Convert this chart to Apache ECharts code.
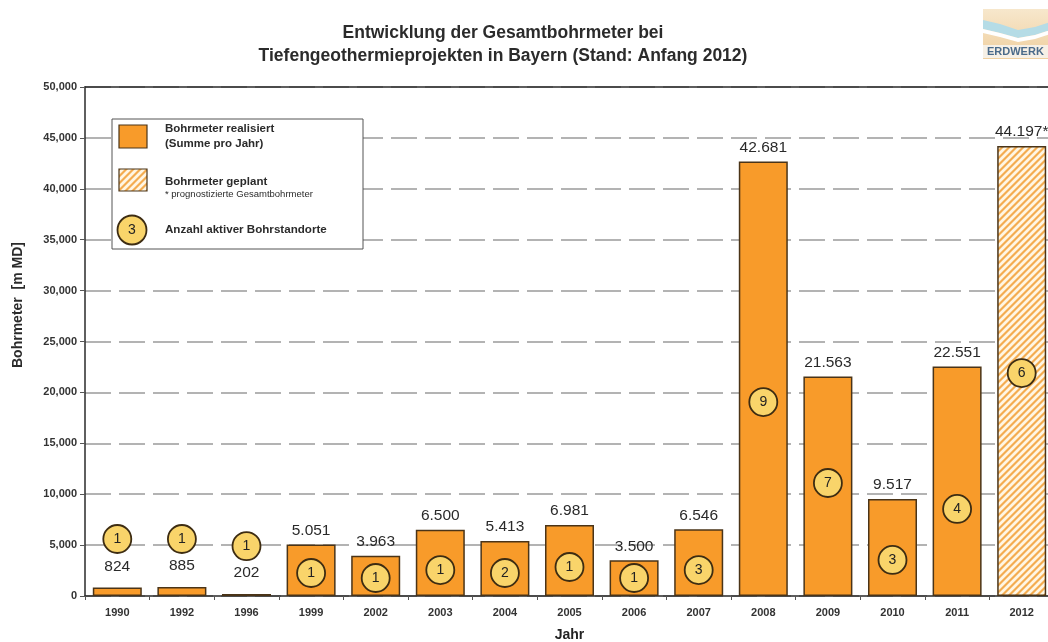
<!DOCTYPE html>
<html>
<head>
<meta charset="utf-8">
<script src="https://cdn.jsdelivr.net/npm/echarts@6/dist/echarts.min.js"></script>
<style>
html,body{margin:0;padding:0;background:#fff;}
#chart{width:1048px;height:642px;}
</style>
</head>
<body>
<div id="chart"></div>
<script>
// ---- data ----
const categories = ['1990','1992','1996','1999','2002','2003','2004','2005','2006','2007','2008','2009','2010','2011','2012'];
const realizedMeters = [824, 885, 202, 5051, 3963, 6500, 5413, 6981, 3500, 6546, 42681, 21563, 9517, 22551, null];
const plannedMeters = [null, null, null, null, null, null, null, null, null, null, null, null, null, null, 44197];
const activeSites = [1, 1, 1, 1, 1, 1, 2, 1, 1, 3, 9, 7, 3, 4, 6];
// vertical level (in m) where the site-count marker is placed in the picture
const siteMarkerLevel = [5600, 5600, 4900, 2260, 1770, 2550, 2260, 2850, 1770, 2550, 19050, 11100, 3540, 8550, 21900];
const yMin = 0, yMax = 50000, yStep = 5000;

// ---- styles ----
const FONT = 'Liberation Sans, Arial, sans-serif';
const barColor = '#F89B2A';
const barBorder = '#4a3418';
const circleFill = '#F9D46A';
const circleBorder = '#3d2c12';

function makeHatch() {
  const s = 7;
  const c = document.createElement('canvas');
  c.width = s; c.height = s;
  const ctx = c.getContext('2d');
  const img = ctx.createImageData(s, s);
  for (let y = 0; y < s; y++) {
    for (let x = 0; x < s; x++) {
      const i = (y * s + x) * 4;
      const k = (x + y) % s;
      let col;
      if (k < 2) col = [244, 172, 80];
      else if (k === 2 || k === 6) col = [249, 208, 150];
      else col = [255, 246, 228];
      img.data[i] = col[0]; img.data[i+1] = col[1]; img.data[i+2] = col[2]; img.data[i+3] = 255;
    }
  }
  ctx.putImageData(img, 0, 0);
  return c;
}
const hatch = makeHatch();

function fmtDot(v) { return String(v).replace(/\B(?=(\d{3})+(?!\d))/g, '.'); }
function fmtComma(v) { return String(v).replace(/\B(?=(\d{3})+(?!\d))/g, ','); }

const chart = echarts.init(document.getElementById('chart'), null, {renderer: 'canvas'});

const realizedData = realizedMeters.map(v => v == null ? '-' : {value: v, label: {distance: v < 1000 ? 13 : 6}});
const plannedData = plannedMeters.map(v => v == null ? '-' : v);
const siteData = activeSites.map((n, i) => [i, siteMarkerLevel[i], n]);

const option = {
  backgroundColor: '#fff',
  animation: false,
  textStyle: {fontFamily: FONT},
  grid: {left: 85, top: 87, right: -6, bottom: 46, show: false, outerBoundsMode: 'none'},
  xAxis: [{
    type: 'category',
    data: categories,
    name: 'Jahr',
    nameLocation: 'middle',
    nameGap: 32,
    nameTextStyle: {fontFamily: FONT, fontWeight: 'bold', fontSize: 14, color: '#222'},
    axisLine: {lineStyle: {color: '#2a2a2a', width: 1.5}},
    axisTick: {show: true, length: 4, lineStyle: {color: '#555'}},
    axisLabel: {fontFamily: FONT, fontWeight: 'bold', fontSize: 11, color: '#333', margin: 11},
    splitLine: {show: false}
  }, {
    type: 'category',
    data: categories,
    position: 'top',
    axisLine: {show: true, onZero: false, lineStyle: {color: '#2a2a2a', width: 1.5}},
    axisTick: {show: false},
    axisLabel: {show: false},
    splitLine: {show: false}
  }],
  yAxis: {
    type: 'value',
    min: yMin, max: yMax, interval: yStep,
    axisLine: {show: true, lineStyle: {color: '#2a2a2a', width: 1.5}},
    axisTick: {show: true, length: 5, lineStyle: {color: '#555'}},
    axisLabel: {fontFamily: FONT, fontWeight: 'bold', fontSize: 11, color: '#333', margin: 8, formatter: v => fmtComma(v)},
    splitLine: {show: true, lineStyle: {color: '#9a9a9a', width: 1.5, type: [26, 8]}}
  },
  series: [
    {
      name: 'Bohrmeter realisiert',
      type: 'bar',
      data: realizedData,
      barWidth: 49,
      barGap: '-100%',
      itemStyle: {color: barColor, borderColor: barBorder, borderWidth: 1.5},
      label: {show: true, position: 'top', distance: 6, fontFamily: FONT, fontSize: 15.5, color: '#2a2a2a', formatter: p => fmtDot(p.value)},
      z: 2
    },
    {
      name: 'Bohrmeter geplant',
      type: 'bar',
      data: plannedData,
      barWidth: 49,
      barGap: '-100%',
      itemStyle: {color: {image: hatch, repeat: 'repeat'}, borderColor: barBorder, borderWidth: 1.5},
      label: {show: true, position: 'top', distance: 6, fontFamily: FONT, fontSize: 15.5, color: '#2a2a2a', formatter: p => fmtDot(p.value) + '*'},
      z: 2
    },
    {
      name: 'Anzahl aktiver Bohrstandorte',
      type: 'scatter',
      data: siteData,
      symbol: 'circle',
      symbolSize: 28,
      itemStyle: {color: circleFill, borderColor: circleBorder, borderWidth: 1.8, opacity: 1},
      label: {show: true, position: 'inside', fontFamily: FONT, fontSize: 14, color: '#222', formatter: p => String(p.value[2])},
      z: 5
    }
  ],
  graphic: [
    // title
    {type: 'text', x: 503, y: 33, z: 100, style: {text: 'Entwicklung der Gesamtbohrmeter bei', font: 'bold 17.5px ' + FONT, fill: '#2b2b2b', align: 'center', verticalAlign: 'middle'}},
    {type: 'text', x: 503, y: 56, z: 100, style: {text: 'Tiefengeothermieprojekten in Bayern (Stand: Anfang 2012)', font: 'bold 17.5px ' + FONT, fill: '#2b2b2b', align: 'center', verticalAlign: 'middle'}},
    // y axis title
    {type: 'text', x: 18, y: 305, rotation: Math.PI / 2, z: 100, style: {text: 'Bohrmeter  [m MD]', font: 'bold 14px ' + FONT, fill: '#2b2b2b', align: 'center', verticalAlign: 'middle'}},
    // legend box
    {type: 'rect', z: 100, shape: {x: 112, y: 119, width: 251, height: 130}, style: {fill: '#fff', stroke: '#555', lineWidth: 1}},
    {type: 'rect', z: 101, shape: {x: 119, y: 125, width: 28, height: 23}, style: {fill: barColor, stroke: barBorder, lineWidth: 1.2}},
    {type: 'text', z: 101, x: 165, y: 129, style: {text: 'Bohrmeter realisiert', font: 'bold 11.5px ' + FONT, fill: '#2b2b2b', verticalAlign: 'middle'}},
    {type: 'text', z: 101, x: 165, y: 144, style: {text: '(Summe pro Jahr)', font: 'bold 11.5px ' + FONT, fill: '#2b2b2b', verticalAlign: 'middle'}},
    {type: 'rect', z: 101, shape: {x: 119, y: 169, width: 28, height: 22}, style: {fill: {image: hatch, repeat: 'repeat'}, stroke: barBorder, lineWidth: 1.2}},
    {type: 'text', z: 101, x: 165, y: 182, style: {text: 'Bohrmeter geplant', font: 'bold 11.5px ' + FONT, fill: '#2b2b2b', verticalAlign: 'middle'}},
    {type: 'text', z: 101, x: 165, y: 194, style: {text: '* prognostizierte Gesamtbohrmeter', font: '9.5px ' + FONT, fill: '#2b2b2b', verticalAlign: 'middle'}},
    {type: 'circle', z: 101, shape: {cx: 132, cy: 230, r: 14.5}, style: {fill: circleFill, stroke: circleBorder, lineWidth: 1.8}},
    {type: 'text', z: 102, x: 132, y: 230, style: {text: '3', font: '14px ' + FONT, fill: '#222', align: 'center', verticalAlign: 'middle'}},
    {type: 'text', z: 101, x: 165, y: 230, style: {text: 'Anzahl aktiver Bohrstandorte', font: 'bold 11.6px ' + FONT, fill: '#2b2b2b', verticalAlign: 'middle'}},
    // logo (top right, partially cut)
    {type: 'group', z: 100, children: [
      {type: 'rect', shape: {x: 983, y: 9, width: 80, height: 50}, style: {fill: {type: 'linear', x: 0, y: 0, x2: 0, y2: 1, colorStops: [{offset: 0, color: '#F7E7CC'}, {offset: 1, color: '#EFCF9E'}]}}},
      {type: 'polygon', shape: {points: [[983, 20], [1000, 24], [1018, 30], [1035, 27], [1063, 18], [1063, 26], [1035, 35], [1018, 38], [1000, 33], [983, 29]]}, style: {fill: '#B5DCE6'}},
      {type: 'polygon', shape: {points: [[983, 29], [1000, 33], [1018, 38], [1035, 35], [1063, 26], [1063, 30], [1035, 39], [1018, 42], [1000, 37], [983, 33]]}, style: {fill: '#FFFFFF'}},
      {type: 'rect', shape: {x: 983, y: 45, width: 80, height: 13}, style: {fill: '#F6F0E6'}},
      {type: 'text', x: 987, y: 52, style: {text: 'ERDWERK', font: 'bold 11px ' + FONT, fill: '#4B6B8A', verticalAlign: 'middle', letterSpacing: 1.5}}
    ]}
  ]
};
chart.setOption(option);
</script>
</body>
</html>
